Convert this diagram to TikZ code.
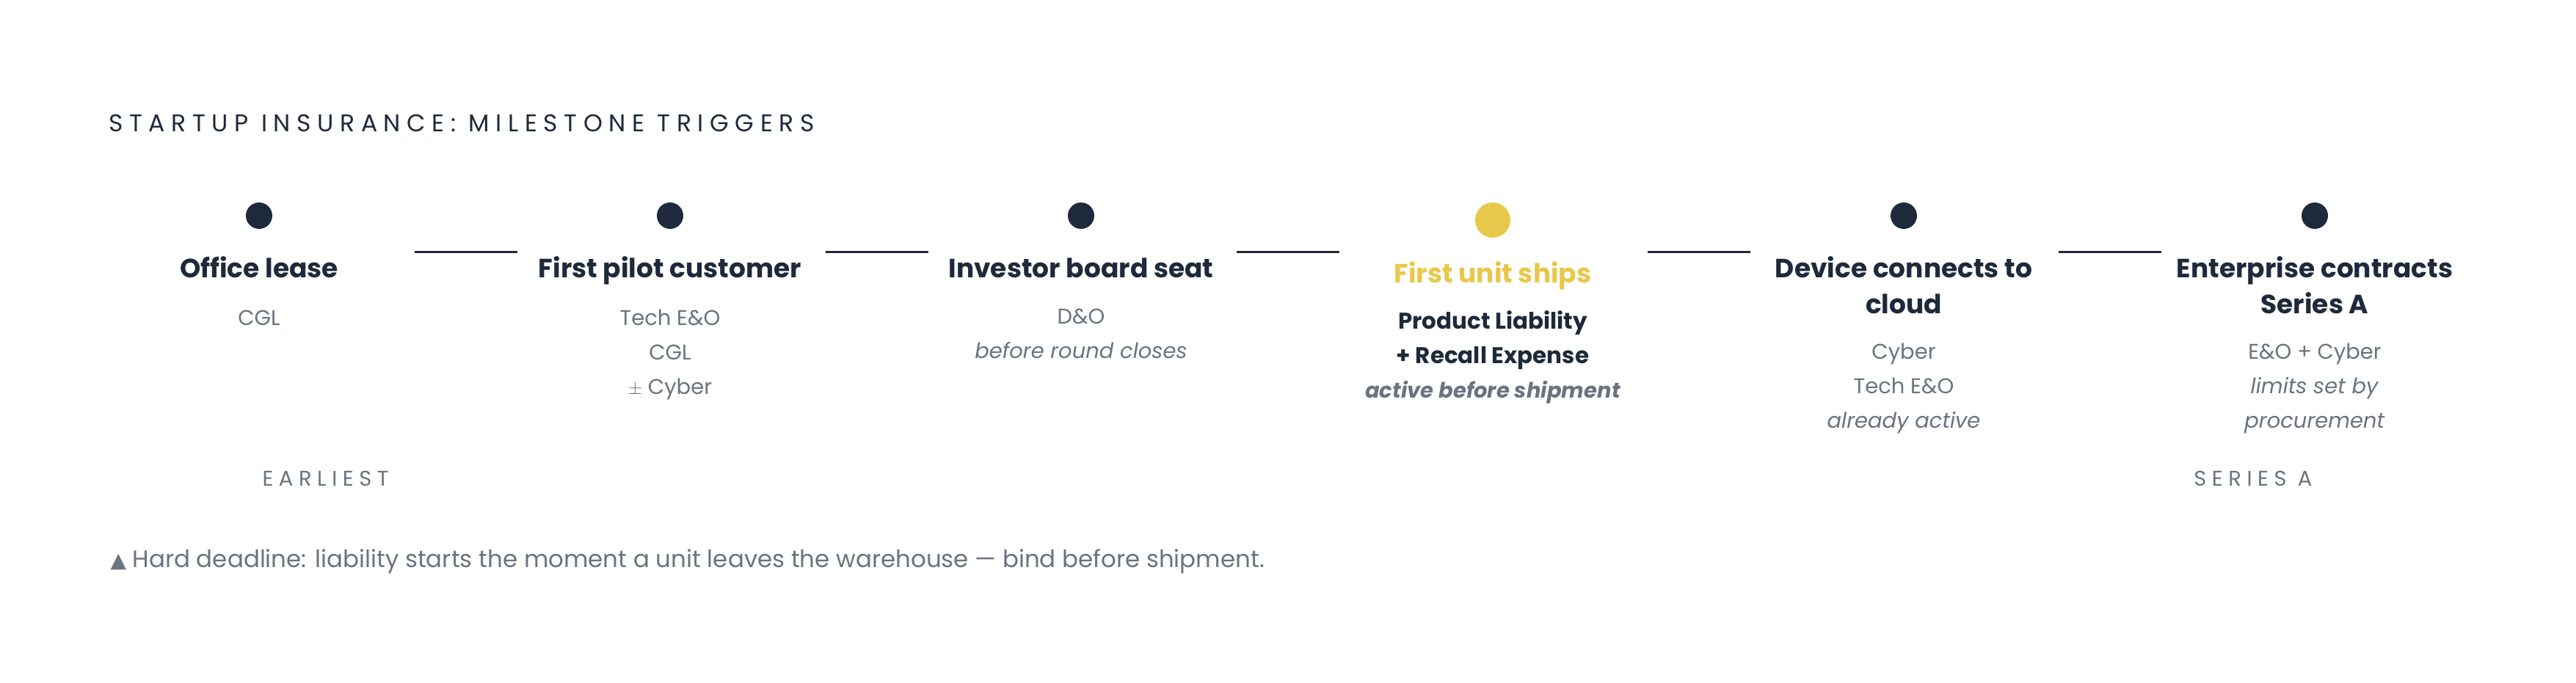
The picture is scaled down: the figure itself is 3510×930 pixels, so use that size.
\documentclass[tikz,border=0pt]{standalone}
\usepackage{fontspec}
\setmainfont{Poppins}
\newfontfamily\symfont{DejaVu Sans}
\newfontfamily\trackfont[LetterSpace=26]{Poppins}

\definecolor{ink}{HTML}{1E293B}
\definecolor{muted}{HTML}{6B7280}
\definecolor{gold}{HTML}{E8C84A}

\begin{document}
\begin{tikzpicture}[x=1pt,y=-1pt]
    \tikzstyle{dot}=[circle, fill=ink, inner sep=0pt, minimum size=36pt]
    \tikzstyle{head}=[anchor=base, align=center, text=ink, font=\fontsize{36}{49}\selectfont\bfseries]
    \tikzstyle{cover}=[anchor=base, align=center, text=muted, font=\fontsize{29}{47}\selectfont]
    \tikzstyle{link}=[draw=ink, line width=3pt]

    \useasboundingbox (0,0) rectangle (3510,930);

    \node[anchor=base west, text=ink, font=\fontsize{33}{33}\trackfont] (title) at (145,179) {STARTUP INSURANCE: MILESTONE TRIGGERS};

    \node[dot] (d_0) at (353,294) {};
    \node[dot] (d_1) at (913,294) {};
    \node[dot] (d_2) at (1473,294) {};
    \node[dot, fill=gold, minimum size=48pt] (d_3) at (2034,300) {};
    \node[dot] (d_4) at (2594,294) {};
    \node[dot] (d_5) at (3154,294) {};

    \node[head] (h_0) at (353,378) {Office lease};
    \node[cover] (c_0) at (353,443) {CGL};

    \node[head] (h_1) at (913,378) {First pilot customer};
    \node[cover] (c_1) at (913,537) {Tech E\&O\\CGL\\$\pm$ Cyber};

    \node[head] (h_2) at (1473,378) {Investor board seat};
    \node[cover] (c_2) at (1473,488) {D\&O\\\textit{before round closes}};

    \node[head, text=gold] (h_3) at (2034,385) {First unit ships};
    \node[cover, text=ink, font=\fontsize{31}{47}\selectfont\bfseries] (c_3) at (2034,542) {Product Liability\\+ Recall Expense\\{\color{muted}\fontsize{29}{47}\selectfont\itshape active before shipment}};

    \node[head] (h_4) at (2594,427) {Device connects to\\cloud};
    \node[cover] (c_4) at (2594,583) {Cyber\\Tech E\&O\\\textit{already active}};

    \node[head] (h_5) at (3154,427) {Enterprise contracts\\Series A};
    \node[cover] (c_5) at (3154,583) {E\&O + Cyber\\\textit{limits set by}\\\textit{procurement}};

    % links between milestones
    \coordinate (l_0a) at (565,343);  \coordinate (l_0b) at (705,343);
    \coordinate (l_1a) at (1125,343); \coordinate (l_1b) at (1265,343);
    \coordinate (l_2a) at (1685,343); \coordinate (l_2b) at (1825,343);
    \coordinate (l_3a) at (2245,343); \coordinate (l_3b) at (2385,343);
    \coordinate (l_4a) at (2805,343); \coordinate (l_4b) at (2945,343);
    \draw[link] (l_0a) -- (l_0b);
    \draw[link] (l_1a) -- (l_1b);
    \draw[link] (l_2a) -- (l_2b);
    \draw[link] (l_3a) -- (l_3b);
    \draw[link] (l_4a) -- (l_4b);

    \node[anchor=base west, text=muted, font=\fontsize{29}{29}\trackfont] (early) at (354,662) {EARLIEST};
    \node[anchor=base east, text=muted, font=\fontsize{29}{29}\trackfont] (late) at (3154,662) {SERIES A};

    \node[anchor=base west, text=muted, font=\fontsize{32.5}{33}\selectfont] (note) at (147,773) {{\symfont\fontsize{28}{28}\selectfont ▲}\ Hard deadline: liability starts the moment a unit leaves the warehouse — bind before shipment.};
\end{tikzpicture}
\end{document}
